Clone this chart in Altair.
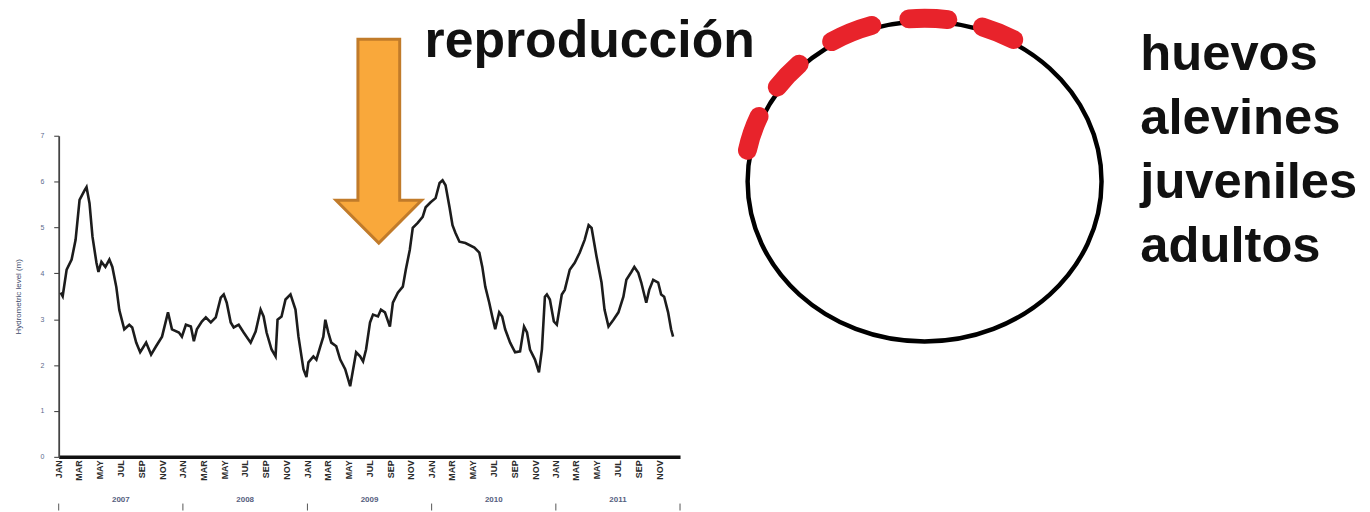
import math
import altair as alt
import pandas as pd

# ---- data -----------------------------------------------------------------
# time in decimal years, hydrometric level in metres
t_years = [
    2007.016, 2007.032, 2007.064, 2007.104, 2007.136, 2007.168, 2007.208, 2007.224,
    2007.248, 2007.272, 2007.304, 2007.320, 2007.344, 2007.376, 2007.408, 2007.432,
    2007.464, 2007.488, 2007.528, 2007.568, 2007.592, 2007.624, 2007.656, 2007.704,
    2007.744, 2007.784, 2007.832, 2007.880, 2007.912, 2007.968, 2007.992,
    2008.024, 2008.064, 2008.088, 2008.112, 2008.152, 2008.184, 2008.224, 2008.264,
    2008.304, 2008.328, 2008.352, 2008.384, 2008.408, 2008.448, 2008.488, 2008.544,
    2008.584, 2008.624, 2008.648, 2008.672, 2008.712, 2008.744, 2008.760, 2008.792,
    2008.824, 2008.864, 2008.904, 2008.928, 2008.968, 2008.992,
    2009.008, 2009.048, 2009.072, 2009.104, 2009.128, 2009.144, 2009.168, 2009.192,
    2009.232, 2009.264, 2009.304, 2009.344, 2009.368, 2009.392, 2009.424, 2009.448,
    2009.472, 2009.504, 2009.528, 2009.568, 2009.592, 2009.624, 2009.664, 2009.688,
    2009.728, 2009.768, 2009.792, 2009.824, 2009.848, 2009.888, 2009.928, 2009.952,
    2009.992,
    2010.032, 2010.064, 2010.088, 2010.112, 2010.144, 2010.168, 2010.192, 2010.224,
    2010.272, 2010.344, 2010.384, 2010.408, 2010.432, 2010.464, 2010.488, 2010.512,
    2010.544, 2010.568, 2010.592, 2010.632, 2010.672, 2010.712, 2010.744, 2010.768,
    2010.792, 2010.832, 2010.864, 2010.888, 2010.912, 2010.928, 2010.952, 2010.984,
    2011.008, 2011.048, 2011.072, 2011.112, 2011.152, 2011.192, 2011.232, 2011.264,
    2011.288, 2011.328, 2011.368, 2011.392, 2011.424, 2011.464, 2011.504, 2011.544,
    2011.568, 2011.608, 2011.632, 2011.664, 2011.688, 2011.728, 2011.752, 2011.784,
    2011.824, 2011.848, 2011.872, 2011.904, 2011.928, 2011.944,
]
level = [
    3.58, 3.50, 4.08, 4.30, 4.73, 5.60, 5.81, 5.88,
    5.53, 4.80, 4.23, 4.03, 4.25, 4.14, 4.30, 4.14,
    3.70, 3.20, 2.78, 2.88, 2.82, 2.49, 2.28, 2.49,
    2.23, 2.41, 2.62, 3.15, 2.78, 2.71, 2.62,
    2.88, 2.84, 2.52, 2.78, 2.95, 3.04, 2.93, 3.04,
    3.47, 3.54, 3.36, 2.93, 2.82, 2.88, 2.71, 2.49,
    2.73, 3.21, 3.06, 2.71, 2.34, 2.19, 2.99, 3.06,
    3.43, 3.54, 3.21, 2.62, 1.91, 1.74,
    2.06, 2.19, 2.12, 2.41, 2.62, 2.99, 2.71, 2.49,
    2.41, 2.12, 1.91, 1.54, 1.91, 2.28, 2.19, 2.08,
    2.34, 2.93, 3.10, 3.06, 3.21, 3.15, 2.84, 3.36,
    3.58, 3.71, 4.08, 4.51, 4.99, 5.10, 5.23, 5.44,
    5.55,
    5.64, 5.97, 6.03, 5.92, 5.44, 5.05, 4.88, 4.69,
    4.66, 4.56, 4.45, 4.14, 3.71, 3.36, 3.06, 2.78,
    3.15, 3.06, 2.78, 2.49, 2.28, 2.30, 2.84, 2.71,
    2.34, 2.12, 1.84, 2.34, 3.49, 3.54, 3.43, 2.95,
    2.88, 3.54, 3.64, 4.08, 4.23, 4.45, 4.73, 5.05,
    4.99, 4.36, 3.80, 3.21, 2.84, 2.99, 3.15, 3.49,
    3.86, 4.03, 4.14, 4.01, 3.80, 3.36, 3.64, 3.86,
    3.80, 3.54, 3.49, 3.15, 2.78, 2.62,
]

years = [2007, 2008, 2009, 2010, 2011]
tick_months = [1, 3, 5, 7, 9, 11]
y_ticks = [0, 1, 2, 3, 4, 5, 6, 7]
y_title = "Hydrometric level (m)"
arrow_label = "reproducción"
stages = ["huevos", "alevines", "juveniles", "adultos"]


def to_date(v):
    y = int(v)
    start = pd.Timestamp(year=y, month=1, day=1)
    end = pd.Timestamp(year=y + 1, month=1, day=1)
    return start + (end - start) * (v - y)


series = pd.DataFrame({"date": [to_date(v) for v in t_years], "level": level})
year_mid = pd.DataFrame({"date": [to_date(y + 0.5) for y in years],
                         "label": [str(y) for y in years]})
year_edges = pd.DataFrame({"date": [to_date(y) for y in years + [years[-1] + 1]]})
one = pd.DataFrame({"k": [0]})

FONT = "Liberation Sans"

x_enc = alt.X(
    "date:T",
    scale=alt.Scale(domain=[alt.DateTime(year=2007, month=1, date=1),
                            alt.DateTime(year=2012, month=1, date=1)]),
    axis=alt.Axis(
        values=[alt.DateTime(year=y, month=m, date=1) for y in years for m in tick_months],
        labelExpr="upper(timeFormat(datum.value, '%b'))",
        labelAngle=270, labelFontSize=9, labelColor="#2a2a2a", labelFont=FONT,
        labelFontWeight="bold",
        labelPadding=3, labelOverlap=False, ticks=False, grid=False,
        domainColor="#111111", domainWidth=3.5, title=None,
    ),
)

line = alt.Chart(series).mark_line(color="#1c1c1c", strokeWidth=2.6).encode(
    x=x_enc,
    y=alt.Y("level:Q",
            scale=alt.Scale(domain=[0, 7], nice=False),
            axis=alt.Axis(values=y_ticks, tickSize=5, tickColor="#333333",
                          domainColor="#444444", domainWidth=1.8, grid=False,
                          labelFontSize=7, labelColor="#5c6a8c", labelFont=FONT,
                          labelPadding=10, title=y_title, titleFontSize=8,
                          titleFontWeight="normal", titleColor="#3b4a6b",
                          titleFont=FONT, titlePadding=18)),
)

year_ticks = alt.Chart(year_edges).mark_rule(color="#555555", strokeWidth=1).encode(
    x=x_enc, y=alt.value(370), y2=alt.value(377))

year_text = alt.Chart(year_mid).mark_text(
    fontSize=8, color="#55607e", font=FONT, fontWeight="bold", baseline="middle").encode(
    x=x_enc, y=alt.value(366), text="label:N")

# ---- annotation shapes (unit-square custom symbols) ------------------------
arrow_path = ("M -0.205 -1 L 0.205 -1 L 0.205 0.58 L 0.42 0.58 L 0 1 "
              "L -0.42 0.58 L -0.205 0.58 Z")
arrow = alt.Chart(one).mark_point(
    shape=arrow_path, size=42025, filled=True, fill="#F9A83B", stroke="#C17B2A",
    strokeWidth=3, opacity=1, fillOpacity=1, strokeJoin="miter").encode(
    x=alt.value(322), y=alt.value(5.5))

ry = 0.904
ellipse_path = (f"M -1 0 A 1 {ry} 0 0 1 0 {-ry} A 1 {ry} 0 0 1 1 0 "
                f"A 1 {ry} 0 0 1 0 {ry} A 1 {ry} 0 0 1 -1 0 Z")
circle = alt.Chart(one).mark_point(
    shape=ellipse_path, size=126736, filled=False, color="#000000",
    strokeWidth=4.5, opacity=1).encode(x=alt.value(871), y=alt.value(46))

seg_angles = [(169, 156.5), (144.7, 134), (121, 107), (95, 82.6), (71.3, 60.4)]
parts = []
for a1, a2 in seg_angles:
    x1, y1 = math.cos(math.radians(a1)), -ry * math.sin(math.radians(a1))
    x2, y2 = math.cos(math.radians(a2)), -ry * math.sin(math.radians(a2))
    parts.append(f"M {x1:.4f} {y1:.4f} A 1 {ry} 0 0 1 {x2:.4f} {y2:.4f}")
red_path = " ".join(parts)
red = alt.Chart(one).mark_point(
    shape=red_path, size=(356 * 1.02) ** 2, filled=False, color="#E8232B",
    strokeWidth=19, strokeCap="round", opacity=1).encode(
    x=alt.value(871), y=alt.value(46))

label_repro = alt.Chart(pd.DataFrame({"t": [arrow_label]})).mark_text(
    font=FONT, fontWeight="bold", fontSize=52, align="left",
    baseline="alphabetic", color="#111111").encode(
    x=alt.value(368), y=alt.value(-79), text="t:N")

label_stages = alt.Chart(pd.DataFrame({"t": ["\n".join(stages)]})).mark_text(
    font=FONT, fontWeight="bold", fontSize=51, align="left",
    baseline="alphabetic", color="#111111", lineBreak="\n", lineHeight=64.3).encode(
    x=alt.value(1088), y=alt.value(-66), text="t:N")

chart = alt.layer(
    line, year_ticks, year_text, arrow, circle, red, label_repro, label_stages
).properties(
    width=625, height=323,
    padding={"left": 51, "top": 127, "right": 686, "bottom": 54},
    autosize=alt.AutoSizeParams(type="none"),
).configure_view(stroke=None)

chart.save("out.html", embed_options={"renderer": "svg", "actions": False})
